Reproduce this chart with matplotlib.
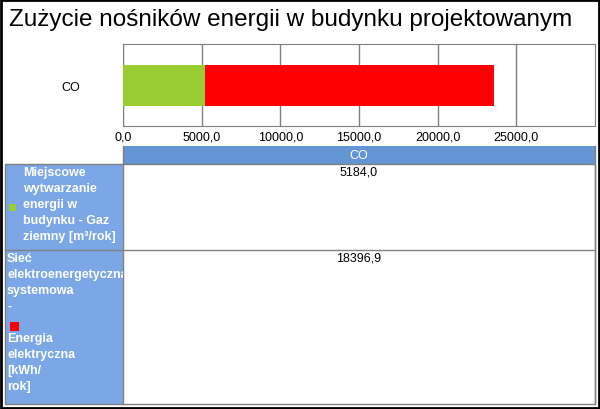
import matplotlib.pyplot as plt
from matplotlib.patches import Rectangle

plt.rcParams['font.family'] = ['Liberation Sans', 'DejaVu Sans']

# dane
title = "Zużycie nośników energii w budynku projektowanym"
category = ["CO"]
series_names = [
    "Miejscowe\nwytwarzanie\nenergii w\nbudynku - Gaz\nziemny [m³/rok]",
    "Sieć\nelektroenergetyczna\nsystemowa\n-\n\nEnergia\nelektryczna\n[kWh/\nrok]",
]
series_values = [5184.0, 18396.9]
series_colors = ["#9acd32", "#ff0000"]
x_ticks = [0, 5000, 10000, 15000, 20000, 25000]
x_max = 30000

W, H = 600, 410
fig = plt.figure(figsize=(W / 100, H / 100), dpi=100)


def px_axes(x0, y0, x1, y1):
    # prostokat w pikselach (od gory) -> wspolrzedne figury
    return fig.add_axes([x0 / W, 1 - y1 / H, (x1 - x0) / W, (y1 - y0) / H])


fig.text(9 / W, 1 - 20 / H, title, fontsize=17.5, va='center', ha='left')

# wykres slupkowy
ax = px_axes(123, 45, 595, 127)
left = 0
for val, col in zip(series_values, series_colors):
    ax.barh(0, val, left=left, height=0.5, color=col, zorder=3)
    left += val
ax.set_xlim(0, x_max)
ax.set_ylim(-0.5, 0.5)
ax.set_xticks(x_ticks)
ax.set_xticklabels([f"{t:.1f}".replace('.', ',') for t in x_ticks], fontsize=9)
ax.set_yticks([0])
ax.set_yticklabels(category, fontsize=9)
ax.tick_params(length=0, pad=3)
ax.tick_params(axis='y', pad=31)
ax.grid(axis='x', color='#808080', lw=1)
for s in ax.spines.values():
    s.set_color('#808080')

# tabela
tb = fig.add_axes([0, 0, 1, 1])
tb.set_xlim(0, W)
tb.set_ylim(H, 0)
tb.axis('off')

tb.add_patch(Rectangle((123, 147), 472, 18, color='#6495d4', lw=0))
tb.text(359, 156, category[0], color='white', fontsize=9, ha='center', va='center')

rows = [(165, 251), (251, 405)]
tb.add_patch(Rectangle((5, 165), 118, 240, color='#7ba7e6', lw=0))
tb.add_patch(Rectangle((5, 165), 590, 240, fill=False, ec='#808080', lw=1))
tb.plot([123, 123], [147, 405], color='#808080', lw=1)
tb.plot([595, 595], [147, 405], color='#808080', lw=1)
tb.plot([5, 595], [251, 251], color='#808080', lw=1)

for (y0, y1), val in zip(rows, series_values):
    tb.text(359, y0 + 8, f"{val:.1f}".replace('.', ','), fontsize=9,
            ha='center', va='center')

# lewa kolumna z nazwami serii (przycinana)
lc = px_axes(5, 165, 123, 405)
lc.set_xlim(5, 123)
lc.set_ylim(405, 165)
lc.axis('off')
lc.patch.set_alpha(0)
lc.text(23, 167, series_names[0], color='white', fontsize=9, fontweight='bold',
        ha='left', va='top', linespacing=1.45, clip_on=True)
lc.add_patch(Rectangle((9, 205), 7, 7, color=series_colors[0], lw=0))
lc.text(7, 253, series_names[1], color='white', fontsize=9, fontweight='bold',
        ha='left', va='top', linespacing=1.45, clip_on=True)
lc.add_patch(Rectangle((10, 323), 9, 9, color=series_colors[1], lw=0, zorder=3))

# ramka
fig.add_artist(Rectangle((0.002, 0.003), 0.996, 0.994, transform=fig.transFigure,
                         fill=False, ec='black', lw=2))

fig.savefig('out.png', dpi=100)
